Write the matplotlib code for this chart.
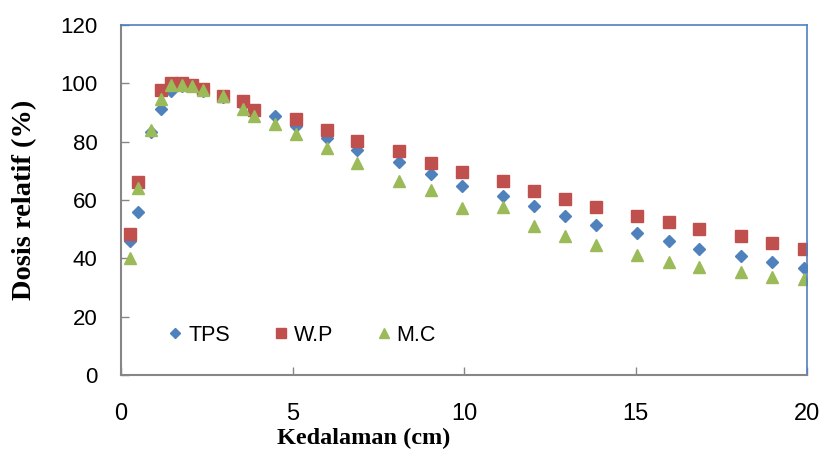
import matplotlib
matplotlib.use("Agg")
import matplotlib.pyplot as plt
from matplotlib import font_manager

# depth (cm) and relative dose (%) for each series
tps_x = [0.25, 0.5, 0.87, 1.17, 1.46, 1.77, 2.08, 2.38, 2.97, 3.57, 3.88, 4.5, 5.09, 6.0,
         6.88, 8.1, 9.03, 9.93, 11.13, 12.04, 12.95, 13.86, 15.05, 15.98, 16.86, 18.07, 18.97, 19.9]
tps_y = [46, 56, 83.4, 91.2, 97.5, 99, 99, 97.5, 95.2, 92.5, 89.8, 88.8, 85.4, 81.1,
         77.1, 72.9, 68.8, 64.8, 61.4, 58, 54.5, 51.4, 48.6, 45.9, 43.2, 40.8, 38.6, 36.8]

wp_x = [0.25, 0.5, 1.17, 1.46, 1.77, 2.08, 2.38, 2.97, 3.57, 3.88, 5.09, 6.0, 6.88,
        8.1, 9.03, 9.93, 11.13, 12.04, 12.95, 13.86, 15.05, 15.98, 16.86, 18.07, 18.97, 19.9]
wp_y = [48.5, 66.3, 97.7, 100, 100.2, 99.6, 98, 95.6, 93.8, 90.9, 87.8, 84, 80.1,
        76.8, 72.8, 69.7, 66.5, 63.1, 60.5, 57.5, 54.6, 52.3, 49.9, 47.6, 45.4, 43.2]

mc_x = [0.25, 0.5, 0.87, 1.17, 1.46, 1.77, 2.08, 2.38, 2.97, 3.57, 3.88, 4.5, 5.09, 6.0,
        6.88, 8.1, 9.03, 9.93, 11.13, 12.04, 12.95, 13.86, 15.05, 15.98, 16.86, 18.07, 18.97, 19.9]
mc_y = [40, 64, 84, 94.6, 99.4, 99.6, 99.2, 97.8, 95.6, 91.2, 88.9, 85.9, 82.6, 77.7,
        72.6, 66.6, 63.4, 57.1, 57.7, 51.2, 47.6, 44.6, 41.3, 38.8, 37.1, 35.4, 33.5, 32.8]

# pick a narrow sans if it is there
names = {f.name for f in font_manager.fontManager.ttflist}
sans = "Liberation Sans Narrow" if "Liberation Sans Narrow" in names else "Liberation Sans"

fig = plt.figure(figsize=(8.21, 4.58), dpi=100)
ax = fig.add_axes([0.1474, 0.1812, 0.8356, 0.7642])

ax.plot(tps_x, tps_y, linestyle="none", marker="D", ms=5.8, color="#4F81BD", label="TPS")
ax.plot(wp_x, wp_y, linestyle="none", marker="s", ms=8, color="#C0504D", label="W.P")
ax.plot(mc_x, mc_y, linestyle="none", marker="^", ms=8.5, color="#9BBB59", label="M.C")

ax.set_xlim(0, 20)
ax.set_ylim(0, 120)
ax.set_xticks([0, 5, 10, 15, 20])
ax.set_yticks([0, 20, 40, 60, 80, 100, 120])

ax.tick_params(axis="both", direction="in", length=6, width=1, color="#868686")
ax.tick_params(axis="x", pad=20)
ax.tick_params(axis="y", pad=17)
for lab in ax.get_xticklabels():
    lab.set_fontfamily(sans)
    lab.set_fontsize(17)
for lab in ax.get_yticklabels():
    lab.set_fontfamily(sans)
    lab.set_fontsize(16)

for s in ["left", "bottom"]:
    ax.spines[s].set_color("#868686")
    ax.spines[s].set_linewidth(1.5)
for s in ["top", "right"]:
    ax.spines[s].set_color("#4F81BD")
    ax.spines[s].set_linewidth(1.2)

ax.set_xlabel("Kedalaman (cm)", family="Liberation Serif", weight="bold", fontsize=17.5)
ax.set_ylabel("Dosis relatif (%)", family="Liberation Serif", weight="bold", fontsize=20.5)
ax.xaxis.set_label_coords(0.354, -0.152)
ax.yaxis.set_label_coords(-0.122, 0.5)

ax.legend(loc="center left", bbox_to_anchor=(0.0714, 0.114), ncol=3, frameon=False,
          numpoints=1, markerscale=0.85, handlelength=0.5, handletextpad=0.35,
          columnspacing=2.1, borderpad=0, borderaxespad=0,
          prop={"family": sans, "size": 15.5})

fig.savefig("out.png", dpi=100)
